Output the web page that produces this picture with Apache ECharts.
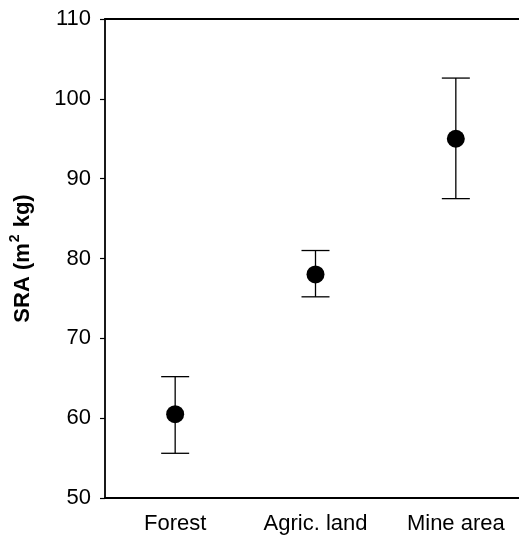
<!DOCTYPE html>
<html>
<head>
<meta charset="utf-8">
<script src="https://cdn.jsdelivr.net/npm/echarts@6/dist/echarts.min.js"></script>
<style>html,body{margin:0;padding:0;background:#fff;overflow:hidden;width:519px;height:536px}#c{width:526px;height:536px}</style>
</head>
<body>
<div id="c"></div>
<script>
var categories = ['Forest', 'Agric. land', 'Mine area'];
var means = [60.5, 78.0, 95.0];
var lowers = [55.6, 75.2, 87.5];
var uppers = [65.2, 81.0, 102.6];
var yTicks = [50, 60, 70, 80, 90, 100, 110];

var chart = echarts.init(document.getElementById('c'), null, {renderer: 'canvas'});
var font = 'Liberation Sans, Arial, sans-serif';
var errData = categories.map(function (c, i) { return [i, lowers[i], uppers[i]]; });

chart.setOption({
  animation: false,
  backgroundColor: '#fff',
  grid: {left: 105, right: 0, top: 19, bottom: 38, containLabel: false, outerBoundsMode: 'none'},
  xAxis: [{
    type: 'category', data: categories, position: 'bottom',
    boundaryGap: true,
    axisLine: {lineStyle: {color: '#000', width: 1.8}},
    axisTick: {inside: true, alignWithLabel: true, length: 5, lineStyle: {color: '#000', width: 1.2}},
    axisLabel: {color: '#000', fontFamily: font, fontSize: 22, margin: 15},
    splitLine: {show: false}
  }, {
    type: 'category', data: categories, position: 'top',
    boundaryGap: true,
    axisLine: {lineStyle: {color: '#000', width: 1.8}},
    axisTick: {inside: true, alignWithLabel: true, length: 5, lineStyle: {color: '#000', width: 1.2}},
    axisLabel: {show: false},
    splitLine: {show: false}
  }],
  yAxis: {
    type: 'value', min: yTicks[0], max: yTicks[yTicks.length - 1], interval: 10,
    axisLine: {show: true, lineStyle: {color: '#000', width: 1.8}},
    axisTick: {show: true, inside: false, length: 5, lineStyle: {color: '#000', width: 1.2}},
    axisLabel: {color: '#000', fontFamily: font, fontSize: 22, margin: 14},
    splitLine: {show: false},
    name: '{a|SRA (m}{s|2}{a| kg)}',
    nameLocation: 'middle', nameGap: 67, nameRotate: 90,
    nameTextStyle: {
      rich: {
        a: {fontFamily: font, fontSize: 22, fontWeight: 'bold', color: '#000'},
        s: {fontFamily: font, fontSize: 14, fontWeight: 'bold', color: '#000', verticalAlign: 'top', padding: [0, 1, 16, 1]}
      }
    }
  },
  series: [{
    type: 'custom',
    data: errData,
    renderItem: function (params, api) {
      var x = api.value(0);
      var lo = api.coord([x, api.value(1)]);
      var hi = api.coord([x, api.value(2)]);
      var hw = 14;
      var st = {stroke: '#000', lineWidth: 1.3};
      return {type: 'group', children: [
        {type: 'line', shape: {x1: lo[0], y1: lo[1], x2: hi[0], y2: hi[1]}, style: st},
        {type: 'line', shape: {x1: lo[0] - hw, y1: lo[1], x2: lo[0] + hw, y2: lo[1]}, style: st},
        {type: 'line', shape: {x1: hi[0] - hw, y1: hi[1], x2: hi[0] + hw, y2: hi[1]}, style: st}
      ]};
    },
    z: 2
  }, {
    type: 'scatter',
    data: means,
    symbol: 'circle', symbolSize: 18,
    itemStyle: {color: '#000', opacity: 1},
    z: 3
  }]
});
</script>
</body>
</html>
